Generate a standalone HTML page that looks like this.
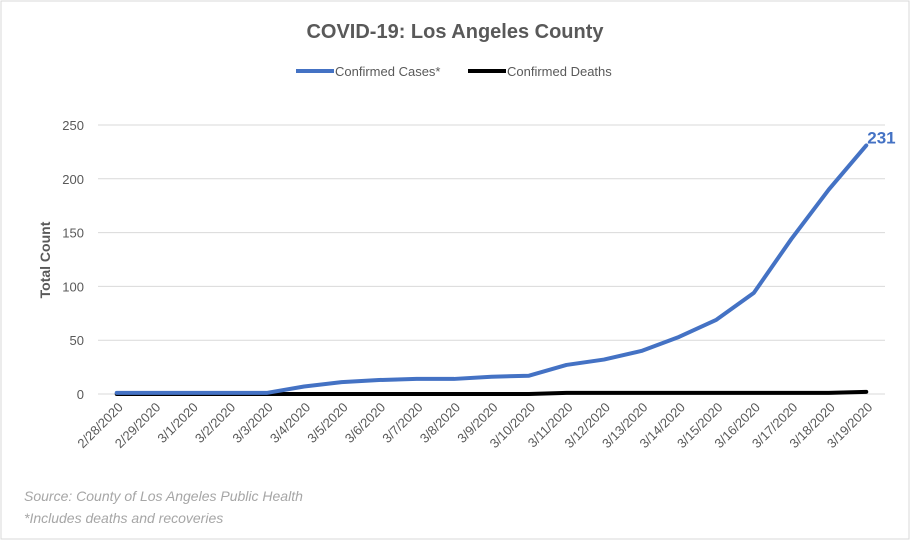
<!DOCTYPE html>
<html><head><meta charset="utf-8"><style>
body{margin:0;background:#fff;}
svg{display:block;font-family:"Liberation Sans",sans-serif;}
</style></head><body>
<svg id="chart" width="912" height="542">
<rect x="1" y="1" width="908" height="538" fill="#fff" stroke="#d9d9d9"/>
<text x="455" y="38" text-anchor="middle" font-size="20" font-weight="bold" fill="#595959">COVID-19: Los Angeles County</text>
<g>
<line x1="296" y1="71" x2="334" y2="71" stroke="#4472c4" stroke-width="4"/>
<text x="335" y="76" font-size="13" fill="#595959">Confirmed Cases*</text>
<line x1="468" y1="71" x2="506" y2="71" stroke="#000" stroke-width="4"/>
<text x="507" y="76" font-size="13" fill="#595959">Confirmed Deaths</text>
</g>
<text transform="translate(50,260) rotate(-90)" text-anchor="middle" font-size="14" font-weight="bold" fill="#595959">Total Count</text>
<g id="grid"></g><g id="xl"></g><g id="series"></g>
<text x="24" y="501" font-size="14" font-style="italic" fill="#a6a6a6">Source: County of Los Angeles Public Health</text>
<text x="24" y="523" font-size="14" font-style="italic" fill="#a6a6a6">*Includes deaths and recoveries</text>
</svg>
<script>
const categories=["2/28/2020","2/29/2020","3/1/2020","3/2/2020","3/3/2020","3/4/2020","3/5/2020","3/6/2020","3/7/2020","3/8/2020","3/9/2020","3/10/2020","3/11/2020","3/12/2020","3/13/2020","3/14/2020","3/15/2020","3/16/2020","3/17/2020","3/18/2020","3/19/2020"];
const cases=[1,1,1,1,1,7,11,13,14,14,16,17,27,32,40,53,69,94,144,190,231];
const deaths=[0,0,0,0,0,0,0,0,0,0,0,0,1,1,1,1,1,1,1,1,2];
const yTicks=[0,50,100,150,200,250];
const NS="http://www.w3.org/2000/svg";
const L=98,R=885,Y0=394,Y250=125;
const bw=(R-L)/categories.length;
const xs=i=>L+bw*(i+0.5);
const ys=v=>Y0-(Y0-Y250)*v/250;
function mk(t,a,p){const e=document.createElementNS(NS,t);for(const k in a)e.setAttribute(k,a[k]);p.appendChild(e);return e;}
const g=document.getElementById('grid');
yTicks.forEach(v=>{
 const l=mk('line',{x1:L,x2:R,y1:ys(v),y2:ys(v),stroke:'#d9d9d9'},g);
 
 
 const t=mk('text',{x:84,y:ys(v)+5,'text-anchor':'end','font-size':13,fill:'#595959'},g);
 t.textContent=v;
 
 
});
const xl=document.getElementById('xl');
categories.forEach((c,i)=>{
 const x=xs(i)+7;
 const t=mk('text',{x:x,y:408,'text-anchor':'end','font-size':13,fill:'#595959',transform:`rotate(-45 ${x} 408)`},xl);
 t.textContent=c;
 
 
});
const s=document.getElementById('series');
function line(d,col,name){
 const p=mk('polyline',{points:d.map((v,i)=>xs(i)+','+ys(v)).join(' '),fill:'none',stroke:col,'stroke-width':4,'stroke-linejoin':'round','stroke-linecap':'round'},s);
 
 
}
line(deaths,'#000','deaths-line');
line(cases,'#4472c4','cases-line');
const n=cases.length-1;
const lb=mk('text',{x:xs(n)+1,y:ys(cases[n])-2,'font-size':17,'font-weight':'bold',fill:'#4472c4'},s);
lb.textContent=cases[n];


</script>
</body></html>
